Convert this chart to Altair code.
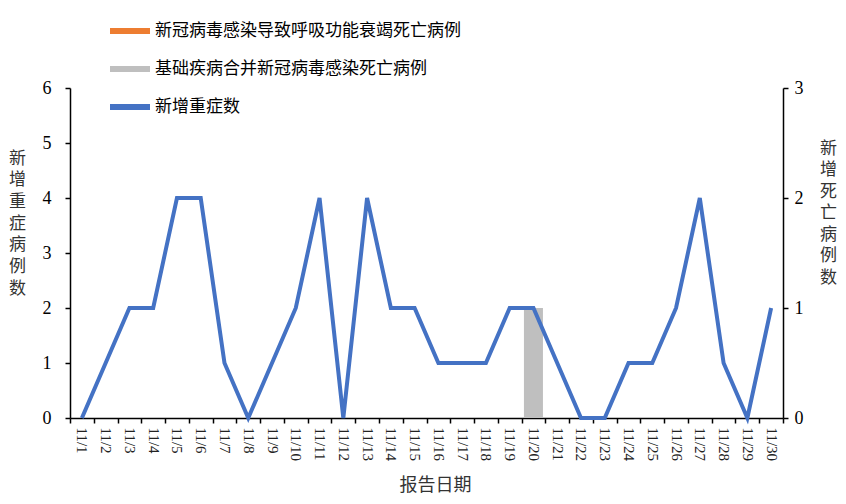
import altair as alt
import pandas as pd

dates = ["11/1", "11/2", "11/3", "11/4", "11/5", "11/6", "11/7", "11/8", "11/9", "11/10",
         "11/11", "11/12", "11/13", "11/14", "11/15", "11/16", "11/17", "11/18", "11/19", "11/20",
         "11/21", "11/22", "11/23", "11/24", "11/25", "11/26", "11/27", "11/28", "11/29", "11/30"]
severe_new = [0, 1, 2, 2, 4, 4, 1, 0, 1, 2, 4, 0, 4, 2, 2, 1, 1, 1, 2, 2, 1, 0, 0, 1, 1, 2, 4, 1, 0, 2]
resp_death = [0, 0, 0, 0, 0, 0, 0, 0, 0, 0, 0, 0, 0, 0, 0, 0, 0, 0, 0, 0, 0, 0, 0, 0, 0, 0, 0, 0, 0, 0]
comorb_death = [0, 0, 0, 0, 0, 0, 0, 0, 0, 0, 0, 0, 0, 0, 0, 0, 0, 0, 0, 1, 0, 0, 0, 0, 0, 0, 0, 0, 0, 0]

s_resp = "新冠病毒感染导致呼吸功能衰竭死亡病例"
s_comorb = "基础疾病合并新冠病毒感染死亡病例"
s_severe = "新增重症数"
series_names = [s_resp, s_comorb, s_severe]
series_colors = ["#ED7D31", "#BFBFBF", "#4472C4"]

bar_df = pd.DataFrame({
    "date": dates * 2,
    "series": [s_resp] * len(dates) + [s_comorb] * len(dates),
    "value": resp_death + comorb_death,
})
line_df = pd.DataFrame({"date": dates, "series": [s_severe] * len(dates), "value": severe_new})

serif = "Liberation Serif"
cjk = "Noto Sans CJK SC"

x_enc = alt.X(
    "date:N", sort=dates,
    scale=alt.Scale(paddingInner=0, paddingOuter=0),
    axis=alt.Axis(
        title="报告日期", titleFont=cjk, titleFontSize=18, titleFontWeight="normal",
        titleColor="#333333", titleX=365, titleY=67, titleBaseline="middle",
        labelAngle=90, labelAlign="left", labelBaseline="middle", labelFont=serif,
        labelFontSize=15, labelColor="#222222", labelPadding=4,
        tickBand="extent", tickSize=5, tickColor="black", domainColor="black",
        domainWidth=1.5, tickWidth=1.5,
    ),
)

color_enc = alt.Color(
    "series:N",
    scale=alt.Scale(domain=series_names, range=series_colors),
    legend=alt.Legend(
        title=None, orient="none", legendX=40, legendY=-77, direction="vertical",
        symbolType="M-1,-0.15L1,-0.15L1,0.15L-1,0.15Z", symbolSize=1600,
        symbolStrokeWidth=0, labelFont=cjk, labelFontSize=17, labelColor="black",
        labelOffset=5, rowPadding=10, padding=0, labelLimit=500,
    ),
)

bars = alt.Chart(bar_df).mark_bar(width=alt.RelativeBandSize(0.8)).encode(
    x=x_enc,
    y=alt.Y(
        "value:Q",
        scale=alt.Scale(domain=[0, 3], nice=False),
        axis=alt.Axis(
            orient="right", values=[0, 1, 2, 3], title=list("新增死亡病例数"),
            titleAngle=0, titleFont=cjk, titleFontSize=17, titleFontWeight="normal",
            titleColor="#333333", titleX=45, titleY=52, titleBaseline="top",
            titleAlign="center", titleLineHeight=21.5,
            labelFont=serif, labelFontSize=18, labelColor="black", labelPadding=6,
            tickSize=5, tickColor="black", domainColor="black", domainWidth=1.5, tickWidth=1.5,
        ),
    ),
    color=color_enc,
)

line = alt.Chart(line_df).mark_line(strokeWidth=4).encode(
    x=x_enc,
    y=alt.Y(
        "value:Q",
        scale=alt.Scale(domain=[0, 6], nice=False),
        axis=alt.Axis(
            orient="left", values=[0, 1, 2, 3, 4, 5, 6], title=list("新增重症病例数"),
            titleAngle=0, titleFont=cjk, titleFontSize=17, titleFontWeight="normal",
            titleColor="#333333", titleX=-53, titleY=62, titleBaseline="top",
            titleAlign="center", titleLineHeight=21.7,
            labelFont=serif, labelFontSize=18, labelColor="black", labelPadding=14,
            tickSize=5, tickColor="black", domainColor="black", domainWidth=1.5, tickWidth=1.5,
        ),
    ),
    color=color_enc,
)

chart = alt.layer(bars, line).resolve_scale(y="independent").properties(
    width=713, height=330,
    autosize=alt.AutoSizeParams(type="none"),
    padding={"left": 62, "top": 80, "right": 55, "bottom": 80},
).configure_view(stroke=None).configure_axis(grid=False)

chart.save("out.html", embed_options={"renderer": "svg", "actions": False})
